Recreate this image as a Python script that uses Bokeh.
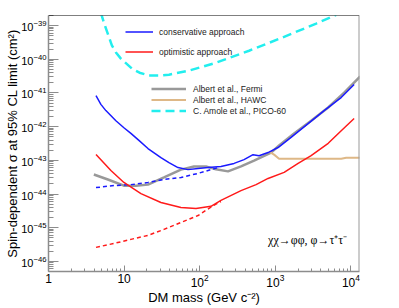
from bokeh.plotting import figure
from bokeh.models import Range1d, FixedTicker, Legend, LegendItem, Label, Span
from bokeh.embed import file_html
from bokeh.resources import INLINE

# ---- data (DM mass in GeV, cross-section in cm^2) ----
cons_mass = [4.25, 4.93, 5.74, 7.79, 9.94, 12.3, 15.7, 20.7, 30.7, 39.2, 51.6, 70, 95,
             129, 191, 285, 386, 508, 610, 802, 1088, 1618, 2716, 4425, 7430, 11040]
cons_sigma = [8.3e-42, 4.6e-42, 3.0e-42, 1.5e-42, 9.3e-43, 6.3e-43, 3.9e-43, 2.24e-43,
              1.2e-43, 8.5e-44, 6.1e-44, 5.3e-44, 5.7e-44, 6.1e-44, 6.6e-44, 8.1e-44,
              1.05e-43, 1.47e-43, 1.37e-43, 1.7e-43, 2.4e-43, 4.8e-43, 1.23e-42,
              3.0e-42, 7.3e-42, 1.78e-41]

cons_dash_mass = [4.25, 7.33, 12.3, 20.7, 33.7, 56.5, 95, 141, 175]
cons_dash_sigma = [1.55e-44, 1.78e-44, 1.9e-44, 2.2e-44, 2.7e-44, 3.1e-44, 4.1e-44,
                   5.3e-44, 6.1e-44]

opt_mass = [4.25, 6.69, 9.94, 16.7, 30.7, 56.5, 89.3, 141, 191, 352, 557, 802, 1309,
            2004, 2979, 5010, 7450, 11040]
opt_sigma = [1.48e-43, 5.0e-44, 2.2e-44, 1.03e-44, 5.6e-45, 4.0e-45, 3.7e-45, 4.3e-45,
             6.5e-45, 1.26e-44, 1.9e-44, 2.9e-44, 4.4e-44, 8.1e-44, 1.38e-43, 3.2e-43,
             7.6e-43, 1.74e-42]

opt_dash_mass = [4.25, 7.33, 12.3, 20.7, 33.7, 56.5, 95, 153, 191]
opt_dash_sigma = [2.6e-46, 3.4e-46, 4.5e-46, 5.9e-46, 8.9e-46, 1.43e-45, 2.3e-45,
                  4.6e-45, 6.0e-45]

fermi_mass = [3.98, 6.1, 9.94, 14.3, 20.7, 33.7, 56.5, 84, 121, 164, 237, 352, 524,
              880, 1122, 1774, 2979, 5010, 8150, 13280]
fermi_sigma = [3.8e-44, 2.7e-44, 1.77e-44, 1.77e-44, 1.9e-44, 3.1e-44, 5.3e-44, 6.6e-44,
               6.6e-44, 5.4e-44, 4.7e-44, 6.6e-44, 9.8e-44, 1.7e-43, 2.75e-43, 6.3e-43,
               1.5e-42, 3.7e-42, 1.02e-41, 3.1e-41]

hawc_mass = [828, 964, 1122, 2197, 4045, 7450, 8670, 13280]
hawc_sigma = [1.82e-43, 1.48e-43, 1.12e-43, 1.12e-43, 1.12e-43, 1.12e-43, 1.2e-43, 1.2e-43]

pico_mass = [4.93, 5.40, 6.89, 7.8, 9.07, 12.7, 16.0, 21.3, 30.0, 39.2, 72, 164, 450,
             1230, 3475, 6380]
pico_sigma = [2.4e-39, 1.23e-39, 2.6e-40, 1.6e-40, 1.05e-40, 5.3e-41, 4.0e-41, 3.3e-41,
              3.3e-41, 3.5e-41, 4.6e-41, 7.9e-41, 1.8e-40, 4.4e-40, 1.15e-39, 2.1e-39]

x_major = [1, 10, 100, 1000, 10000]
y_major_exp = [-46, -45, -44, -43, -42, -41, -40, -39]

XMIN, XMAX = 1, 1.3e4
YMIN, YMAX = 5e-47, 2e-39

p = figure(frame_width=311, frame_height=256, x_axis_type="log", y_axis_type="log",
           x_range=Range1d(XMIN, XMAX), y_range=Range1d(YMIN, YMAX),
           output_backend="svg", toolbar_location=None,
           min_border_left=48, min_border_right=40, min_border_top=15,
           min_border_bottom=37)
p.outline_line_color = None
p.grid.visible = False

x_minor = [k * m for m in x_major for k in range(2, 10) if k * m < XMAX]
y_major = [float(f"1e{e}") for e in y_major_exp]
y_minor = [float(f"{k}e{e}") for e in range(-47, -38) for k in range(2, 10)
           if YMIN <= float(f"{k}e{e}") <= YMAX]
p.xaxis.ticker = FixedTicker(ticks=x_major, minor_ticks=x_minor)
p.yaxis.ticker = FixedTicker(ticks=y_major, minor_ticks=y_minor)
p.xaxis.major_label_overrides = {1: "1", 10: "10"}

AX = "#8c8c8c"
for ax in (p.xaxis, p.yaxis):
    ax.axis_line_color = AX
    ax.axis_line_width = 1.5
    ax.major_tick_line_color = AX
    ax.minor_tick_line_color = AX
    ax.major_tick_out = 0
    ax.minor_tick_out = 0
    ax.major_label_text_font = "Liberation Sans"
    ax.major_label_text_color = "black"
    ax.axis_label_text_font = "Liberation Sans"
    ax.axis_label_text_font_size = "13px"
    ax.axis_label_text_font_style = "normal"
    ax.axis_label_text_color = "black"
p.xaxis.major_label_text_font_size = "12px"
p.yaxis.major_label_text_font_size = "11px"
p.xaxis.major_tick_in = 6
p.xaxis.minor_tick_in = 3
p.yaxis.major_tick_in = 10
p.yaxis.minor_tick_in = 5
p.xaxis.major_label_standoff = 2
p.yaxis.major_label_standoff = 2
p.xaxis.axis_label_standoff = 0
p.yaxis.axis_label_standoff = -2
p.xaxis.axis_label = "DM mass (GeV c\u207b\u00b2)"
p.yaxis.axis_label = "Spin-dependent \u03c3 at 95% CL limit (cm\u00b2)"

p.add_layout(Span(location=XMAX, dimension="height", line_color="#999999", line_width=2))
p.add_layout(Span(location=YMAX, dimension="width", line_color="black", line_width=1))

BLUE, RED = "#1a1aff", "#ff1a1a"
r_pico = p.line(pico_mass, pico_sigma, line_color="#22eeee", line_width=2.5,
                line_dash="9 5")
r_fermi = p.line(fermi_mass, fermi_sigma, line_color="#999999", line_width=2.5)
r_hawc = p.line(hawc_mass, hawc_sigma, line_color="#deb887", line_width=2)
r_cons = p.line(cons_mass, cons_sigma, line_color=BLUE, line_width=1.5)
p.line(cons_dash_mass, cons_dash_sigma, line_color=BLUE, line_width=1.5, line_dash="4 3")
r_opt = p.line(opt_mass, opt_sigma, line_color=RED, line_width=1.5)
p.line(opt_dash_mass, opt_dash_sigma, line_color=RED, line_width=1.5, line_dash="4 3")

def style_legend(leg, gw, gh, sp, standoff):
    leg.glyph_width = gw
    leg.glyph_height = gh
    leg.label_height = gh
    leg.spacing = sp
    leg.padding = 0
    leg.margin = 0
    leg.border_line_color = None
    leg.background_fill_alpha = 0
    leg.label_standoff = standoff
    leg.label_text_font = "Liberation Sans"
    leg.label_text_font_size = "8.5px"
    leg.label_text_color = "#222222"

leg1 = Legend(items=[LegendItem(label="conservative approach", renderers=[r_cons]),
                     LegendItem(label="optimistic approach", renderers=[r_opt])],
              location=(77, 214))
style_legend(leg1, 28, 11, 9, 6)
leg2 = Legend(items=[LegendItem(label="Albert et al., Fermi", renderers=[r_fermi]),
                     LegendItem(label="Albert et al., HAWC", renderers=[r_hawc]),
                     LegendItem(label="C. Amole et al., PICO-60", renderers=[r_pico])],
              location=(103, 155))
style_legend(leg2, 35, 11, 0, 7)
p.add_layout(leg1)
p.add_layout(leg2)

p.add_layout(Label(x=803, y=10 ** -45.38, text="\u03c7\u03c7\u2192\u03c6\u03c6, \u03c6\u2192\u03c4\u207a\u03c4\u207b",
                   text_font="Liberation Serif", text_font_size="12px",
                   text_baseline="middle", text_color="black"))

open("out.html", "w").write(file_html(p, INLINE))
